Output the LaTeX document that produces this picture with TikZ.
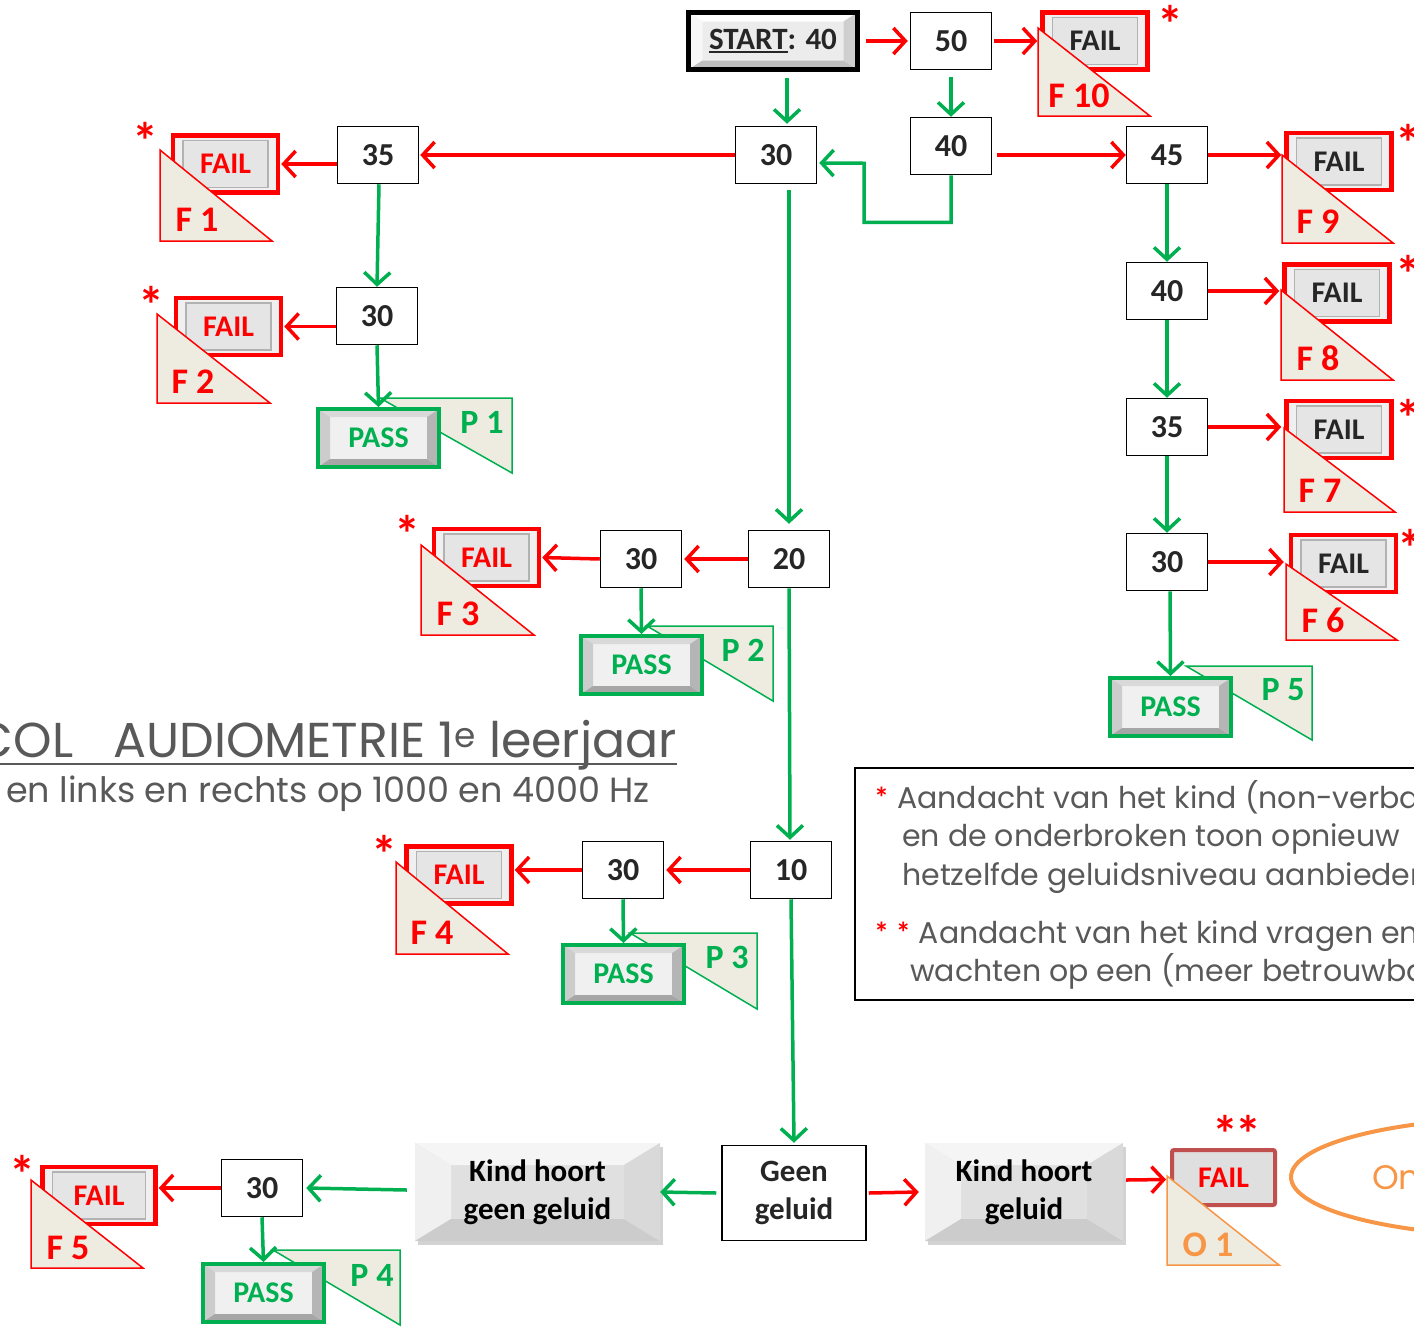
\documentclass[tikz,border=0pt]{standalone}
\usepackage{fontspec}
\setmainfont{Carlito}
\newfontfamily\cg{Poppins}
\usetikzlibrary{arrows.meta,shadows,calc}
\definecolor{pgreen}{HTML}{00B050}
\definecolor{tanf}{HTML}{EEECE1}
\definecolor{ora}{HTML}{F79646}
\definecolor{dred}{HTML}{C0504D}
\definecolor{gtxt}{HTML}{595959}
\definecolor{txt}{HTML}{262626}
\newcommand\bvl[6]{%
\fill[#3] (path picture bounding box.north west) -- (path picture bounding box.north east) -- ([shift={(-#1pt,-#2pt)}]path picture bounding box.north east) -- ([shift={(#1pt,-#2pt)}]path picture bounding box.north west) -- cycle;
\fill[#4] (path picture bounding box.north west) -- ([shift={(#1pt,-#2pt)}]path picture bounding box.north west) -- ([shift={(#1pt,#2pt)}]path picture bounding box.south west) -- (path picture bounding box.south west) -- cycle;
\fill[#5] (path picture bounding box.south west) -- ([shift={(#1pt,#2pt)}]path picture bounding box.south west) -- ([shift={(-#1pt,#2pt)}]path picture bounding box.south east) -- (path picture bounding box.south east) -- cycle;
\fill[#6] (path picture bounding box.north east) -- ([shift={(-#1pt,-#2pt)}]path picture bounding box.north east) -- ([shift={(-#1pt,#2pt)}]path picture bounding box.south east) -- (path picture bounding box.south east) -- cycle;}
\newcommand\ulstart[1]{\setbox0\hbox{#1}\rlap{\color{txt}\rule[-4pt]{\wd0}{2pt}}\box0}
\begin{document}
\begin{tikzpicture}[x=1pt,y=-1pt,
  numbox/.style={draw=black, line width=1.5pt, fill=white, minimum width=81pt, minimum height=57pt, inner sep=0pt, font=\fontsize{32}{36}\selectfont\bfseries, text=txt},
  failbox/.style={draw=red, line width=4.5pt, fill=gray!12, minimum width=105pt, minimum height=57pt, inner sep=0pt, font=\fontsize{30}{36}\selectfont\bfseries, text=red,
    path picture={\draw[gray!60, line width=1.5pt, fill=gray!20] ([shift={(10pt,-5pt)}]path picture bounding box.north west) rectangle ([shift={(-10pt,5pt)}]path picture bounding box.south east);}},
  failboxd/.style={failbox, text=txt},
  passbox/.style={draw=pgreen, line width=4pt, fill=gray!12, minimum width=121pt, minimum height=58pt, inner sep=0pt, font=\fontsize{30}{36}\selectfont\bfseries, text=pgreen,
    path picture={\bvl{12}{8}{gray!30}{gray!40}{gray!70}{gray!58}}},
  startbox/.style={draw=black, line width=5pt, fill=gray!15, minimum width=169pt, minimum height=57pt, inner sep=0pt, font=\fontsize{31}{36}\selectfont\bfseries, text=txt,
    path picture={\bvl{14}{9}{white}{gray!6}{gray!50}{gray!38}}},
  kindbox/.style={fill=gray!24, inner sep=0pt, align=center, font=\fontsize{31}{38}\selectfont\bfseries, text=black,
    drop shadow={shadow xshift=3pt, shadow yshift=-4pt, opacity=0.35},
    path picture={\bvl{36}{22}{gray!8}{gray!12}{gray!40}{gray!30}}},
  ftri/.style={fill=tanf, draw=red, line width=1.5pt, line join=miter},
  ptri/.style={fill=tanf, draw=pgreen, line width=1.5pt, line join=miter},
  flab/.style={text=red, font=\fontsize{36}{36}\selectfont\bfseries, inner sep=0pt},
  plab/.style={text=pgreen, font=\fontsize{34}{36}\selectfont\bfseries, inner sep=0pt},
  starl/.style={text=red, font=\fontsize{52}{52}\selectfont\bfseries, inner sep=0pt, anchor=base},
  ra/.style={draw=red, line width=3.5pt, -{Straight Barb[length=12pt,width=26pt,line width=3.5pt]}},
  ga/.style={draw=pgreen, line width=3.5pt, -{Straight Barb[length=12pt,width=26pt,line width=3.5pt]}}
]
\useasboundingbox (0,0) rectangle (1414,1326);
\begin{scope}
\clip (0,0) rectangle (1414,1326);

% ---- title texts
\node[anchor=base east, inner sep=0pt, text=gtxt, font=\cg\fontsize{49}{56}\selectfont] (title) at (677,757) {COL\hspace{40pt}AUDIOMETRIE 1\textsuperscript{e} leerjaar};
\draw[gtxt, line width=2pt] (0,764) -- (677,764);
\node[anchor=base east, inner sep=0pt, text=gtxt, font=\cg\fontsize{35}{40}\selectfont] (subtitle) at (650,802) {en links en rechts op 1000 en 4000 Hz};

% ---- legend
\draw[black, line width=2pt] (855,768) rectangle (1440,1000);
\node[anchor=base west, inner sep=0pt, text=gtxt, font=\cg\fontsize{30}{38}\selectfont] (lg1) at (874,808) {{\rmfamily\bfseries\color{red}*} Aandacht van het kind (non-verbaal)};
\node[anchor=base west, inner sep=0pt, text=gtxt, font=\cg\fontsize{30}{38}\selectfont] (lg2) at (902,846) {en de onderbroken toon opnieuw};
\node[anchor=base west, inner sep=0pt, text=gtxt, font=\cg\fontsize{30}{38}\selectfont] (lg3) at (902,885) {hetzelfde geluidsniveau aanbieden};
\node[anchor=base west, inner sep=0pt, text=gtxt, font=\cg\fontsize{30}{38}\selectfont] (lg4) at (874,943) {{\rmfamily\bfseries\color{red}* *} Aandacht van het kind vragen en};
\node[anchor=base west, inner sep=0pt, text=gtxt, font=\cg\fontsize{30}{38}\selectfont] (lg5) at (910,981) {wachten op een (meer betrouwbare)};

% ---- number boxes
\node[startbox] (start) at (773,41) {\ulstart{START}: 40};
\node[numbox] (n50) at (951,41) {50};
\node[numbox] (n30a) at (776,155) {30};
\node[numbox] (n40a) at (951,146) {40};
\node[numbox] (n45) at (1167,155) {45};
\node[numbox] (n35L) at (378,155) {35};
\node[numbox] (n30L) at (377,316) {30};
\node[numbox] (n40R) at (1167,291) {40};
\node[numbox] (n35R) at (1167,427) {35};
\node[numbox] (n30R) at (1167,562) {30};
\node[numbox] (n20) at (789,559) {20};
\node[numbox] (n30m) at (641,559) {30};
\node[numbox] (n10) at (791,870) {10};
\node[numbox] (n30b) at (623,870) {30};
\node[numbox] (n30c) at (262,1188) {30};
\node[numbox, minimum width=144pt, minimum height=95pt, align=center, font=\fontsize{31}{38}\selectfont\bfseries] (geen) at (794,1193) {Geen\\geluid};
\node[kindbox, minimum width=245pt, minimum height=98pt] (kg) at (537.5,1192) {Kind hoort\\geen geluid};
\node[kindbox, minimum width=198pt, minimum height=98pt] (kh) at (1024,1192) {Kind hoort\\geluid};

% ---- FAIL boxes with triangles
\node[failboxd] (f10) at (1095,41) {FAIL};
\filldraw[ftri] (1038,28) -- (1038,116) -- (1150,116) -- cycle;
\node[flab] (lf10) at (1079,96) {F 10};
\node[failbox] (f1) at (225.5,164) {FAIL};
\filldraw[ftri] (160,150) -- (160,241) -- (272,241) -- cycle;
\node[flab] (lf1) at (197,220) {F 1};
\node[failbox] (f2) at (228.5,326.5) {FAIL};
\filldraw[ftri] (157,314) -- (157,403) -- (270,403) -- cycle;
\node[flab] (lf2) at (193,382) {F 2};
\node[failboxd] (f9) at (1339,161.5) {FAIL};
\filldraw[ftri] (1282,155) -- (1282,243) -- (1393,243) -- cycle;
\node[flab] (lf9) at (1318,222) {F 9};
\node[failboxd] (f8) at (1337,293) {FAIL};
\filldraw[ftri] (1281,290) -- (1281,380) -- (1393,380) -- cycle;
\node[flab] (lf8) at (1318,358) {F 8};
\node[failboxd] (f7) at (1339,429.5) {FAIL};
\filldraw[ftri] (1284,428) -- (1284,512) -- (1395,512) -- cycle;
\node[flab] (lf7) at (1320,491) {F 7};
\node[failboxd] (f6) at (1343.5,563.5) {FAIL};
\filldraw[ftri] (1286,564) -- (1286,640) -- (1397,640) -- cycle;
\node[flab] (lf6) at (1323,620) {F 6};
\node[failbox] (f3) at (486.5,557.5) {FAIL};
\filldraw[ftri] (421,545) -- (421,635) -- (534,635) -- cycle;
\node[flab] (lf3) at (458,614) {F 3};
\node[failbox] (f4) at (459,875) {FAIL};
\filldraw[ftri] (396,862) -- (396,954) -- (508,954) -- cycle;
\node[flab] (lf4) at (432,933) {F 4};
\node[failbox, minimum width=113pt] (f5) at (99,1195.5) {FAIL};
\filldraw[ftri] (31,1180) -- (31,1268) -- (143,1268) -- cycle;
\node[flab] (lf5) at (68,1248) {F 5};
\node[draw=dred, line width=4pt, fill=gray!25, rounded corners=2pt, minimum width=103pt, minimum height=55pt, inner sep=0pt, font=\fontsize{30}{36}\selectfont\bfseries, text=red] (o1) at (1223.5,1177.5) {FAIL};
\filldraw[fill=tanf, draw=ora, line width=1.5pt] (1167,1176) -- (1167,1265) -- (1279,1265) -- cycle;
\node[flab, text=ora] (lo1) at (1208,1245) {O 1};

% ---- stars
\node[starl] (s10) at (1170,42) {*};
\node[starl] (s1) at (145,159) {*};
\node[starl] (s2) at (151,323) {*};
\node[starl] (s9) at (1408,161) {*};
\node[starl] (s8) at (1408,292) {*};
\node[starl] (s7) at (1408,436) {*};
\node[starl] (s6) at (1410,566) {*};
\node[starl] (s3) at (407,552) {*};
\node[starl] (s4) at (384,872) {*};
\node[starl] (s5) at (22,1192) {*};
\node[starl] (s11) at (1237,1152) {*\kern-3pt*};

% ---- PASS boxes with triangles
\filldraw[ptri] (380,398) -- (512,398) -- (512,473) -- cycle;
\node[passbox] (p1) at (378.5,438) {PASS};
\node[plab] (lp1) at (482,422) {P 1};
\filldraw[ptri] (647,626) -- (773,626) -- (773,701) -- cycle;
\node[passbox] (p2) at (641.5,665) {PASS};
\node[plab] (lp2) at (743,650) {P 2};
\filldraw[ptri] (630,933) -- (757,933) -- (757,1009) -- cycle;
\node[passbox] (p3) at (623.5,974) {PASS};
\node[plab] (lp3) at (727,957) {P 3};
\filldraw[ptri] (273,1250) -- (400,1250) -- (400,1325) -- cycle;
\node[passbox] (p4) at (263.5,1293) {PASS};
\node[plab] (lp4) at (372,1275) {P 4};
\filldraw[ptri] (1186,666) -- (1312,666) -- (1312,740) -- cycle;
\node[passbox] (p5) at (1170.5,707) {PASS};
\node[plab] (lp5) at (1283,690) {P 5};

% ---- ellipse
\draw[ora, line width=4pt] (1520,1177) ellipse [x radius=229pt, y radius=59pt];
\node[anchor=west, inner sep=0pt, text=ora, font=\cg\fontsize{34}{40}\selectfont] (onb) at (1372,1177) {Onbetrouwbaar};

% ---- connectors
\draw[ra] ($(start.east)+(6,0)$) -- ($(n50.west)+(-2,0)$);
\draw[ra] ($(n50.east)+(2,0)$) -- ($(f10.west)+(-3,0)$);
\draw[ga] ($(start.south)+(14,6)$) -- ($(n30a.north)+(11,-2)$);
\draw[ga] ($(n50.south)+(0,7)$) -- (n40a.north);
\draw[ga] (n40a.south) -- ++(0,47) -- ++(-87,0) -- ++(0,-59) -- ($(n30a.east)+(2,8)$);
\draw[ra] (n30a.west) -- ($(n35L.east)+(1,0)$);
\draw[ra] ($(n40a.east |- n45.west)+(5,0)$) -- (n45.west);
\draw[ra] (n45.east) -- ($(f9.west |- n45.east)+(-3,0)$);
\draw[ga] (n45.south) -- (n40R.north);
\draw[ra] (n40R.east) -- ($(f8.west |- n40R.east)+(-3,0)$);
\draw[ga] (n40R.south) -- (n35R.north);
\draw[ra] (n35R.east) -- ($(f7.west |- n35R.east)+(-3,0)$);
\draw[ga] (n35R.south) -- (n30R.north);
\draw[ra] (n30R.east) -- ($(f6.west |- n30R.east)+(-5,0)$);
\draw[ga] ($(n30R.south)+(3,0)$) -- (p5.north);
\draw[ra] (n35L.west |- f1.east) -- ($(f1.east)+(1,0)$);
\draw[ga] ($(n35L.south)+(1,0)$) -- (n30L.north);
\draw[ra] (n30L.west |- f2.east) -- ($(f2.east)+(1,0)$);
\draw[ga] (n30L.south) -- (p1.north);
\draw[ga] ($(n30a.south)+(13,6)$) -- ($(n20.north)+(0,-6)$);
\draw[ra] (n20.west) -- ($(n30m.east)+(2,0)$);
\draw[ra] (n30m.west) -- ($(f3.east)+(1,0)$);
\draw[ga] (n30m.south) -- (p2.north);
\draw[ga] (n20.south) -- ($(n10.north)+(-1,-1)$);
\draw[ra] (n10.west) -- ($(n30b.east)+(2,0)$);
\draw[ra] (n30b.west) -- ($(f4.east |- n30b.west)+(1,0)$);
\draw[ga] (n30b.south) -- (p3.north);
\draw[ga] (n10.south) -- ($(geen.north)+(0,-2)$);
\draw[ga] ($(geen.west)+(-5,0)$) -- (kg.east);
\draw[ga] ($(kg.west)+(-8,-2)$) -- ($(n30c.east)+(3,0)$);
\draw[ra] (n30c.west) -- ($(f5.east |- n30c.west)+(1,0)$);
\draw[ga] (n30c.south) -- (p4.north);
\draw[ra] ($(geen.east)+(2,0)$) -- ($(kh.west)+(-6,0)$);
\draw[ra] ($(kh.east)+(3,-12)$) -- ($(o1.west)+(-4,2)$);
\end{scope}
\end{tikzpicture}
\end{document}
